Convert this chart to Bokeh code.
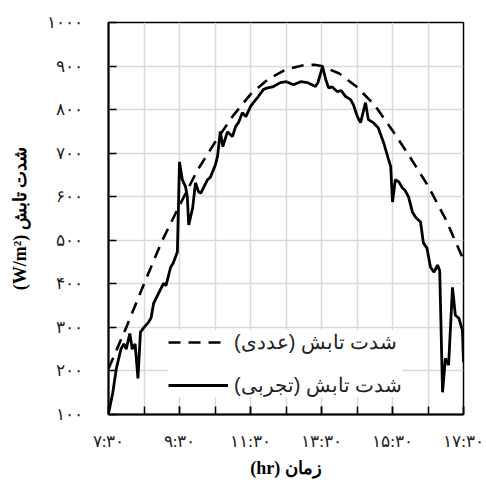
from bokeh.plotting import figure
from bokeh.models import Range1d, FixedTicker, Legend, LegendItem
from bokeh.embed import file_html
from bokeh.resources import INLINE

# Experimental irradiance (solid)
exp_t = [7.50, 7.62, 7.72, 7.85, 7.93, 8.00, 8.10, 8.17, 8.25, 8.33, 8.40, 8.50, 8.63, 8.70,
         8.77, 8.91, 9.05, 9.12, 9.25, 9.32, 9.44, 9.50, 9.58, 9.67, 9.72, 9.76, 9.87, 9.95,
         10.04, 10.10, 10.29, 10.37, 10.51, 10.57, 10.65, 10.72, 10.85, 10.99, 11.08, 11.16,
         11.27, 11.37, 11.50, 11.58, 11.72, 11.86, 11.98, 12.12, 12.34, 12.51, 12.71, 12.91,
         13.10, 13.33, 13.40, 13.53, 13.62, 13.70, 13.80, 13.95, 14.05, 14.18, 14.32, 14.40,
         14.51, 14.60, 14.74, 14.82, 14.96, 15.10, 15.25, 15.39, 15.45, 15.50, 15.58, 15.68,
         15.78, 15.85, 15.95, 16.06, 16.15, 16.29, 16.37, 16.47, 16.57, 16.67, 16.77, 16.83,
         16.91, 16.99, 17.08, 17.19, 17.27, 17.37, 17.47, 17.50]
exp_v = [102, 150, 205, 250, 262, 250, 286, 250, 262, 183, 289, 300, 312, 322,
         355, 378, 401, 396, 438, 447, 473, 680, 639, 623, 600, 535, 574, 632,
         611, 608, 639, 645, 673, 692, 750, 715, 749, 738, 761, 770,
         793, 784, 807, 816, 830, 846, 850, 852, 862, 864, 857, 864,
         862, 853, 862, 899, 869, 850, 852, 841, 844, 830, 823, 811,
         784, 770, 816, 777, 770, 758, 724, 685, 669, 588, 639, 634,
         620, 615, 600, 565, 553, 542, 494, 482, 438, 427, 443, 430,
         151, 229, 213, 392, 328, 321, 293, 220]

# Numerical irradiance (dashed)
num_t = [7.5, 8.0, 8.5, 9.0, 9.5, 10.0, 10.5, 11.0, 11.5, 12.0, 12.5, 13.0, 13.3, 13.5,
         14.0, 14.5, 15.0, 15.5, 16.0, 16.5, 17.0, 17.5]
num_v = [205, 300, 400, 497, 580, 660, 725, 785, 835, 870, 892, 902, 903, 900,
         883, 852, 810, 752, 690, 625, 548, 455]

x_major = [7.5, 9.5, 11.5, 13.5, 15.5, 17.5]
x_labels = ["۷:۳۰", "۹:۳۰", "۱۱:۳۰", "۱۳:۳۰", "۱۵:۳۰", "۱۷:۳۰"]
x_hours = [7.5, 8.5, 9.5, 10.5, 11.5, 12.5, 13.5, 14.5, 15.5, 16.5, 17.5]
y_ticks = [100, 200, 300, 400, 500, 600, 700, 800, 900, 1000]
y_labels = ["۱۰۰", "۲۰۰", "۳۰۰", "۴۰۰", "۵۰۰", "۶۰۰", "۷۰۰", "۸۰۰", "۹۰۰", "۱۰۰۰"]

legend_num = "شدت تابش (عددی)"
legend_exp = "شدت تابش (تجربی)"
x_title = "(hr) زمان"
y_title = "(W/m²) شدت تابش"

p = figure(width=486, height=484, output_backend="svg", toolbar_location=None,
           x_range=Range1d(7.5, 17.5), y_range=Range1d(100, 1000),
           min_border_left=108, min_border_right=23, min_border_top=22, min_border_bottom=70)

p.background_fill_color = "white"
p.border_fill_color = "white"
p.outline_line_color = "black"
p.outline_line_width = 1.5

r_num = p.line(num_t, num_v, line_color="black", line_width=2.6, line_dash="12 8")
r_exp = p.line(exp_t, exp_v, line_color="black", line_width=2.8)

xa = p.xaxis[0]
xa.ticker = FixedTicker(ticks=x_major, minor_ticks=x_hours)
xa.major_label_overrides = {t: l for t, l in zip(x_major, x_labels)}
ya = p.yaxis[0]
ya.ticker = FixedTicker(ticks=y_ticks)
ya.major_label_overrides = {t: l for t, l in zip(y_ticks, y_labels)}

for ax in (xa, ya):
    ax.axis_line_color = "black"
    ax.axis_line_width = 2
    ax.major_tick_in = 8
    ax.major_tick_out = 0
    ax.minor_tick_in = 8
    ax.minor_tick_out = 0
    ax.major_tick_line_color = "black"
    ax.minor_tick_line_color = "black"
    ax.major_tick_line_width = 1.5
    ax.minor_tick_line_width = 1.5
    ax.major_label_text_font = "Liberation Serif"
    ax.major_label_text_font_size = "17px"
    ax.major_label_text_color = "#222222"
    ax.axis_label_text_font = "Liberation Serif"
    ax.axis_label_text_font_style = "bold"
    ax.axis_label_text_font_size = "18px"
    ax.axis_label_text_color = "black"

ya.minor_tick_in = 0
xa.major_label_standoff = 17
xa.axis_label_standoff = 4
ya.major_label_standoff = 26
ya.axis_label_standoff = 14
xa.axis_label = x_title
ya.axis_label = y_title

p.xgrid[0].ticker = FixedTicker(ticks=x_hours)
p.ygrid[0].ticker = FixedTicker(ticks=y_ticks)
for g in (p.xgrid[0], p.ygrid[0]):
    g.grid_line_color = "#d9d9d9"
    g.grid_line_width = 1.5

legend = Legend(items=[LegendItem(label=legend_num, renderers=[r_num]),
                       LegendItem(label=legend_exp, renderers=[r_exp])],
                location=(60, 17))
legend.background_fill_color = "white"
legend.background_fill_alpha = 1
legend.border_line_color = None
legend.glyph_width = 60
legend.glyph_height = 20
legend.label_height = 20
legend.spacing = 19
legend.padding = 9
legend.margin = 0
legend.label_standoff = 6
legend.label_text_font = "Liberation Sans"
legend.label_text_font_size = "20px"
legend.label_text_color = "#222222"
p.add_layout(legend)

open("out.html", "w").write(file_html(p, INLINE))
